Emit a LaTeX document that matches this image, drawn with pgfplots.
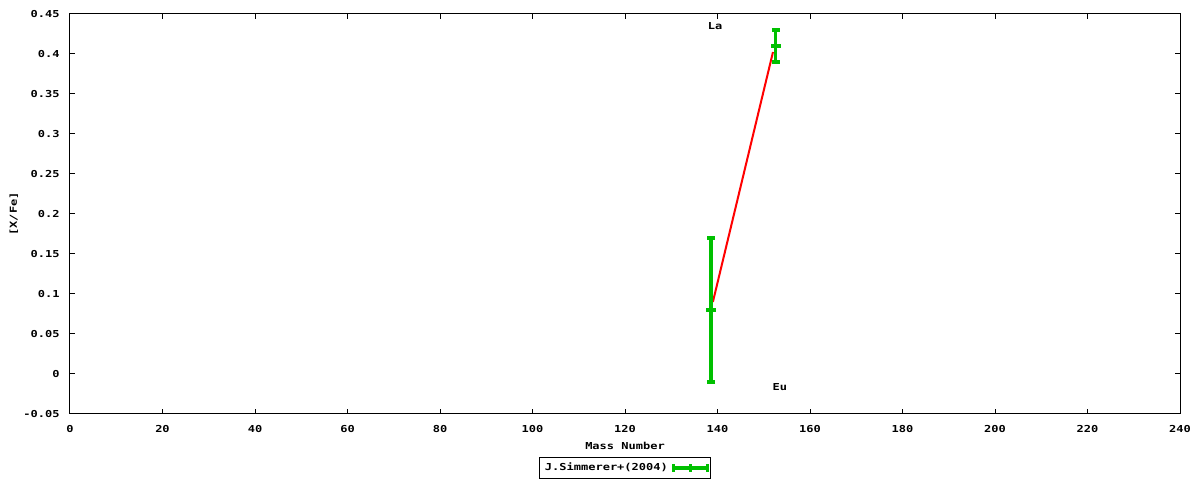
\documentclass[border=0pt]{standalone}
\usepackage{fontspec}
\setmainfont{DejaVu Sans Mono}[FakeStretch=1.25]
\usepackage{pgfplots}
\pgfplotsset{compat=1.18}
\definecolor{gpgreen}{RGB}{0,192,0}
\newcommand\gpfont{\fontsize{4.8}{5.5}\selectfont\bfseries}

\begin{document}
\begin{tikzpicture}
\path[use as bounding box] (0,0) rectangle (600pt,240pt);
\begin{axis}[
  at={(35pt,33pt)}, anchor=south west,
  scale only axis, width=555pt, height=200pt,
  xmin=0, xmax=240, ymin=-0.05, ymax=0.45,
  xtick={0,20,40,60,80,100,120,140,160,180,200,220,240},
  ytick={-0.05,0,0.05,0.1,0.15,0.2,0.25,0.3,0.35,0.4,0.45},
  yticklabels={-0.05,0,0.05,0.1,0.15,0.2,0.25,0.3,0.35,0.4,0.45},
  xticklabels={0,20,40,60,80,100,120,140,160,180,200,220,240},
  tick pos=both, tick align=inside, major tick length=2.5pt,
  every tick/.style={black, line width=0.5pt},
  axis line style={line width=0.5pt, black},
  ticklabel style={font=\gpfont, inner sep=0pt},
  xticklabel style={anchor=center, yshift=-7.5pt},
  yticklabel style={anchor=east, xshift=-5pt},
  xlabel={Mass Number}, ylabel={[X/Fe]},
  label style={font=\gpfont},
  xlabel style={at={(axis description cs:0.5,0)}, anchor=center, yshift=-16pt},
  ylabel style={at={(axis description cs:-0.0505,0.5)}, anchor=center},
  legend style={at={(axis description cs:0.5,0)}, anchor=center, yshift=-27pt,
    draw=black, line width=0.5pt, inner sep=0.6pt, font=\gpfont,
    legend cell align=left},
  legend plot pos=right,
  clip=false,
]
% model line
\addplot[red, line width=1pt, forget plot] coordinates {
  (139,0.09) (152,0.4025)
};
% J.Simmerer+(2004)
\addplot[gpgreen, only marks, mark=-, mark size=2.5pt,
  mark options={solid, line width=1.6pt},
  error bars/.cd, y dir=both, y explicit,
  error bar style={line width=1.6pt, gpgreen},
  error mark options={rotate=90, mark size=2pt, line width=1.6pt, gpgreen},
  ] coordinates {
  (138.6,0.08) +- (0,0.09)
  (152.6,0.41) +- (0,0.02)
};
\addlegendimage{legend image code/.code={
  \draw[gpgreen, line width=1.6pt] (0pt,0pt) -- (17pt,0pt);
  \draw[gpgreen, line width=1.6pt] (0pt,-2pt) -- (0pt,2pt);
  \draw[gpgreen, line width=1.6pt] (8.5pt,-2pt) -- (8.5pt,2pt);
  \draw[gpgreen, line width=1.6pt] (17pt,-2pt) -- (17pt,2pt);
}}
\node[font=\gpfont] at (axis cs:139.5,0.435) {La};
\node[font=\gpfont] at (axis cs:153.5,-0.016) {Eu};
\legend{,J.Simmerer+(2004)}
\end{axis}
\end{tikzpicture}
\end{document}
